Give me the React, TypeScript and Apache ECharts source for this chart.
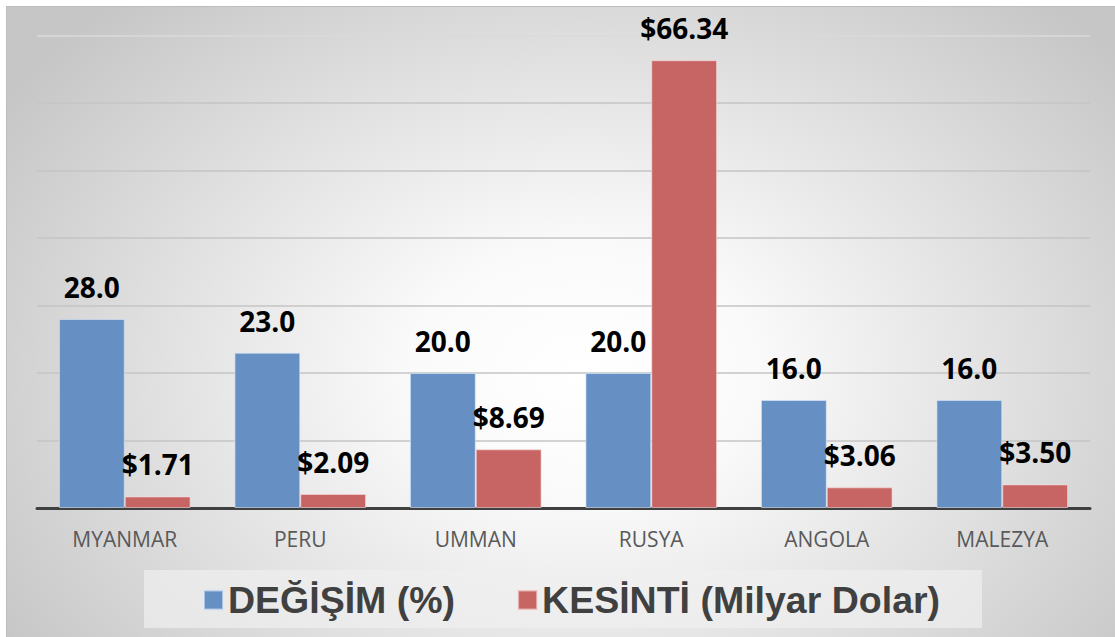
import React, { useEffect, useRef } from "react";
import * as echarts from "echarts";

const categories = ["MYANMAR", "PERU", "UMMAN", "RUSYA", "ANGOLA", "MALEZYA"];
const changeValues = [28.0, 23.0, 20.0, 20.0, 16.0, 16.0];
const cutValues = [1.71, 2.09, 8.69, 66.34, 3.06, 3.5];
const seriesNames = ["DEĞİŞİM (%)", "KESİNTİ (Milyar Dolar)"];

export default function App() {
  const ref = useRef<HTMLDivElement>(null);
  useEffect(() => {
    if (!ref.current) return;
    const chart = echarts.init(ref.current, null, { renderer: "svg" });
    const labelBase = {
      show: true,
      position: "top" as const,
      distance: 18,
      fontFamily: "Open Sans",
      fontWeight: "bold" as const,
      fontSize: 28,
      color: "#000000",
    };
    chart.setOption({
      animation: false,
      grid: { left: 31, right: 25, top: 29.5, bottom: 129 },
      graphic: [
        {
          type: "rect",
          shape: { x: 138, y: 564, width: 838, height: 58 },
          style: { fill: "rgba(240,240,240,0.7)" },
          z: -1,
        },
      ],
      legend: {
        data: seriesNames,
        left: 197,
        top: 575,
        padding: 0,
        itemGap: 62,
        itemWidth: 19,
        itemHeight: 19,
        icon: "rect",
        textStyle: {
          fontFamily: "Liberation Sans",
          fontWeight: "bold",
          fontSize: 37.5,
          color: "#404040",
        },
      },
      xAxis: {
        type: "category",
        data: categories,
        axisLine: { lineStyle: { color: "#404040", width: 3 } },
        axisTick: { show: false },
        axisLabel: {
          color: "#595959",
          fontSize: 21,
          fontFamily: "Open Sans",
          margin: 20,
        },
      },
      yAxis: {
        type: "value",
        min: 0,
        max: 70,
        interval: 10,
        axisLabel: { show: false },
        axisLine: { show: false },
        axisTick: { show: false },
        splitLine: {
          lineStyle: {
            color: ["#c4c4c4", "#c4c4c4", "#c4c4c4", "#c4c4c4", "#c4c4c4", "#c4c4c4", "#c4c4c4", "#dadada"],
            width: 1.5,
          },
        },
      },
      series: [
        {
          name: seriesNames[0],
          type: "bar",
          data: changeValues,
          barCategoryGap: "25%",
          barGap: "0%",
          itemStyle: { color: "#6690C4", borderColor: "rgba(220,232,248,0.6)", borderWidth: 1 },
          label: { ...labelBase, formatter: (p: any) => Number(p.value).toFixed(1) },
        },
        {
          name: seriesNames[1],
          type: "bar",
          data: cutValues,
          barCategoryGap: "25%",
          barGap: "0%",
          itemStyle: { color: "#C76564", borderColor: "rgba(248,220,220,0.6)", borderWidth: 1 },
          label: { ...labelBase, formatter: (p: any) => "$" + Number(p.value).toFixed(2) },
        },
      ],
    });
    return () => chart.dispose();
  }, []);
  return (
    <div
      style={{
        position: "absolute",
        left: 0,
        top: 0,
        width: 1115,
        height: 637,
        background: "#ffffff",
        overflow: "hidden",
      }}
    >
      <div
        style={{
          position: "absolute",
          left: 6,
          top: 6,
          width: 1109,
          height: 631,
          background:
            "radial-gradient(ellipse 62% 80% at 52% 58%, #ffffff 0%, #fafafa 25%, #e2e2e2 60%, #c6c6c6 100%)",
          boxShadow: "inset 1px 1px 0 #bdbdbd",
        }}
      >
        <div ref={ref} style={{ width: 1109, height: 631 }} />
      </div>
    </div>
  );
}
